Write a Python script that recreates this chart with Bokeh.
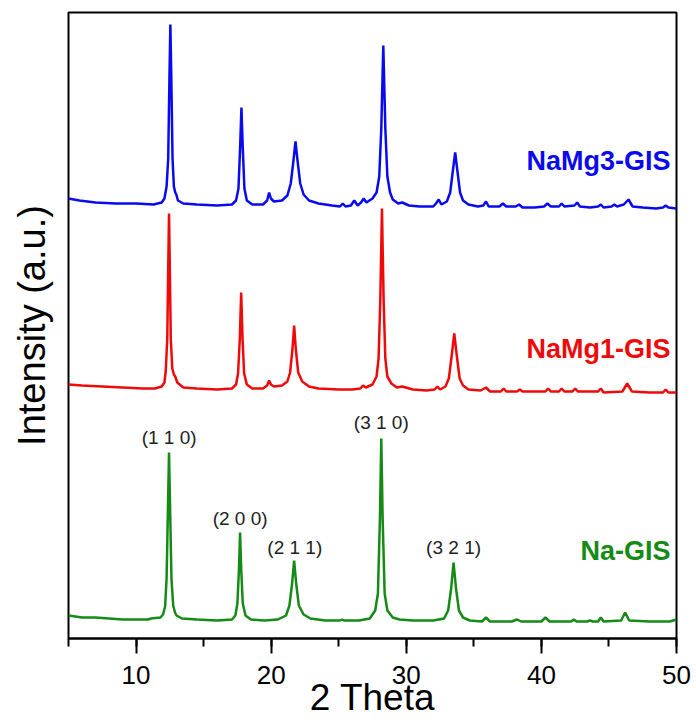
from bokeh.plotting import figure
from bokeh.models import Range1d, SingleIntervalTicker, FixedTicker, ColumnDataSource
from bokeh.core.properties import value
from bokeh.embed import file_html
from bokeh.resources import INLINE

# ---------------- data ----------------
mg3_x = [5.0, 5.8, 7.0, 8.5, 10.0, 11.3, 11.9, 12.1, 12.26, 12.38, 12.47, 12.54, 12.61, 12.70, 12.80, 12.90, 12.98, 13.1, 13.5, 14.5, 16.0,
         17.1, 17.4, 17.58, 17.70, 17.80, 17.90, 18.02, 18.2, 18.6, 19.4, 19.7, 19.85, 19.98, 20.2, 20.8, 21.2, 21.45, 21.65, 21.80,
         21.95, 22.15, 22.4, 22.8, 23.5, 24.5, 25.1, 25.3, 25.5, 25.9, 26.15, 26.4, 26.65, 26.85, 27.05, 27.5, 27.8, 28.0, 28.15, 28.30,
         28.45, 28.6, 28.8, 29.0, 29.4, 29.7, 30.2, 31.0, 32.0, 32.2, 32.4, 32.6, 33.0, 33.25, 33.45, 33.62, 33.78, 33.98, 34.2, 34.6,
         35.3, 35.7, 35.9, 36.1, 36.9, 37.15, 37.4, 38.1, 38.35, 38.6, 39.5, 40.2, 40.45, 40.7, 41.3, 41.5, 41.7, 42.45, 42.65, 42.85,
         43.6, 44.2, 44.4, 44.6, 45.2, 45.4, 45.6, 46.1, 46.45, 46.75, 47.5, 48.5, 49.0, 49.2, 49.4, 50.0]
mg3_y = [440, 438, 436, 435, 435, 434, 436, 440, 452, 480, 560, 614, 560, 480, 452, 446, 444, 438, 435, 434, 433,
         434, 438, 450, 490, 531, 490, 450, 438, 434, 434, 438, 446, 440, 437, 438, 443, 455, 478, 497,
         478, 455, 444, 438, 435, 433, 432, 435, 432, 433, 438, 433, 436, 440, 436, 440, 446, 462, 510, 593,
         510, 462, 446, 439, 435, 436, 433, 432, 432, 435, 439, 434, 437, 446, 468, 486, 468, 446, 438, 434,
         432, 433, 437, 432, 432, 435, 432, 432, 434, 431, 431, 432, 435, 432, 432, 435, 432, 433, 436, 432,
         431, 432, 434, 431, 432, 434, 432, 434, 439, 432, 431, 430, 431, 433, 431, 430]

mg1_x = [5.0, 6.0, 7.5, 9.0, 10.5, 11.4, 11.9, 12.1, 12.2, 12.31, 12.38, 12.44, 12.50, 12.57, 12.68, 12.80, 12.90, 13.05, 13.5, 14.5,
         16.0, 17.1, 17.4, 17.55, 17.68, 17.78, 17.88, 18.0, 18.2, 18.6, 19.4, 19.7, 19.85, 19.98, 20.2, 20.8, 21.2, 21.4, 21.58,
         21.70, 21.82, 22.0, 22.3, 22.8, 23.5, 25.0, 26.0, 26.6, 26.8, 27.0, 27.5, 27.8, 27.95, 28.08, 28.20, 28.32, 28.45, 28.6,
         28.9, 29.3, 29.7, 30.5, 31.5, 32.1, 32.3, 32.5, 32.9, 33.15, 33.38, 33.55, 33.72, 33.95, 34.2, 34.6, 35.5, 35.9, 36.2,
         37.0, 37.2, 37.4, 38.2, 38.4, 38.6, 40.3, 40.5, 40.7, 41.3, 41.5, 41.7, 42.3, 42.5, 42.7, 44.2, 44.4, 44.6, 46.0, 46.35,
         46.7, 48.0, 49.0, 49.2, 49.4, 50.0]
mg1_y = [254, 253, 252, 251, 250, 250, 252, 256, 268, 300, 370, 425, 370, 300, 270, 264, 262, 256, 251, 250,
         249, 250, 254, 265, 300, 346, 300, 265, 254, 250, 250, 253, 258, 254, 252, 253, 257, 266, 290,
         313, 290, 266, 257, 252, 250, 249, 249, 250, 253, 251, 254, 262, 280, 340, 430, 340, 280, 262,
         255, 251, 252, 249, 248, 249, 252, 249, 252, 260, 285, 305, 285, 260, 253, 249, 248, 251, 247,
         247, 250, 247, 247, 249, 247, 247, 250, 247, 247, 250, 247, 247, 250, 247, 247, 250, 246, 247, 255,
         247, 246, 246, 249, 246, 246]

na_x = [5.0, 6.0, 7.0, 8.0, 9.0, 10.0, 10.9, 11.1, 11.8, 12.0, 12.15, 12.26, 12.36, 12.44, 12.52, 12.62, 12.75, 12.88, 13.0, 13.4,
        14.5, 16.0, 17.1, 17.35, 17.5, 17.62, 17.70, 17.78, 17.9, 18.1, 18.5, 19.5, 20.5, 21.1, 21.35, 21.55, 21.70, 21.85, 22.05,
        22.4, 22.9, 24.0, 25.1, 25.25, 25.4, 26.5, 27.3, 27.7, 27.9, 28.05, 28.15, 28.25, 28.4, 28.6, 29.0, 29.5, 30.5, 32.0, 32.8,
        33.1, 33.32, 33.50, 33.68, 33.9, 34.2, 34.7, 35.6, 35.9, 36.2, 37.8, 38.2, 38.5, 40.0, 40.3, 40.6, 42.2, 42.4, 42.6, 43.4,
        43.6, 43.8, 44.2, 44.4, 44.6, 45.9, 46.2, 46.5, 48.0, 49.5, 50.0]
na_y = [23, 21, 21, 20, 19, 19, 19, 20, 21, 24, 32, 60, 130, 186, 130, 60, 33, 26, 23, 20,
        19, 18, 19, 23, 35, 70, 106, 70, 35, 23, 19, 18, 19, 23, 33, 55, 78, 55, 33,
        24, 20, 18, 18, 19, 18, 18, 20, 28, 45, 120, 200, 120, 45, 28, 21, 19, 18, 18, 20,
        28, 50, 76, 50, 28, 21, 18, 17, 21, 17, 17, 19, 17, 17, 21, 17, 17, 19, 17, 17,
        18, 17, 17, 21, 17, 18, 26, 18, 17, 17, 19]

sample_names = ["NaMg3-GIS", "NaMg1-GIS", "Na-GIS"]
sample_colors = ["#0a0aee", "#ee0a0a", "#158a15"]
sample_label_y = [478, 290, 88]

hkl_labels = ["(1 1 0)", "(2 0 0)", "(2 1 1)", "(3 1 0)", "(3 2 1)"]
hkl_x = [12.45, 17.7, 21.75, 28.15, 33.5]
hkl_y = [201, 120, 91, 216, 91]

x_ticks_interval = 10
x_title = "2 Theta"
y_title = "Intensity (a.u.)"

FONT = "Liberation Sans"

p = figure(width=696, height=728, output_backend="svg", toolbar_location=None,
           x_range=Range1d(5, 50), y_range=Range1d(0, 626),
           min_border_left=68, min_border_right=20, min_border_top=12, min_border_bottom=90)
p.background_fill_color = "white"
p.border_fill_color = "white"
p.outline_line_color = "black"
p.outline_line_width = 2
p.xgrid.visible = False
p.ygrid.visible = False

p.line(mg3_x, mg3_y, line_color=sample_colors[0], line_width=2.5)
p.line(mg1_x, mg1_y, line_color=sample_colors[1], line_width=2.5)
p.line(na_x, na_y, line_color=sample_colors[2], line_width=2.5)

lab_src = ColumnDataSource(dict(x=[49.55] * 3, y=sample_label_y, t=sample_names, c=sample_colors))
p.text(x="x", y="y", text="t", text_color="c", source=lab_src, text_align="right", text_baseline="middle",
       text_font=value(FONT), text_font_style="bold", text_font_size="27px")

hkl_src = ColumnDataSource(dict(x=hkl_x, y=hkl_y, t=hkl_labels))
p.text(x="x", y="y", text="t", source=hkl_src, text_align="center", text_baseline="middle",
       text_font=value(FONT), text_font_size="19px", text_color="#222222")

xa = p.xaxis[0]
xa.ticker = SingleIntervalTicker(interval=x_ticks_interval, num_minor_ticks=2)
xa.axis_line_color = "black"
xa.axis_line_width = 2
xa.major_tick_line_color = "black"
xa.major_tick_line_width = 2
xa.major_tick_out = 15
xa.major_tick_in = 0
xa.minor_tick_line_color = "black"
xa.minor_tick_line_width = 2
xa.minor_tick_out = 8
xa.minor_tick_in = 0
xa.major_label_text_font = FONT
xa.major_label_text_font_size = "26px"
xa.major_label_text_color = "black"
xa.major_label_standoff = 12
xa.axis_label = x_title
xa.axis_label_text_font = FONT
xa.axis_label_text_font_size = "37px"
xa.axis_label_text_font_style = "normal"
xa.axis_label_text_color = "black"
xa.axis_label_standoff = -10

ya = p.yaxis[0]
ya.ticker = FixedTicker(ticks=[])
ya.axis_line_color = None
ya.major_tick_line_color = None
ya.minor_tick_line_color = None
ya.major_label_text_font_size = "0px"
ya.major_label_standoff = 0
ya.axis_label = y_title
ya.axis_label_text_font = FONT
ya.axis_label_text_font_size = "38px"
ya.axis_label_text_font_style = "normal"
ya.axis_label_text_color = "black"
ya.axis_label_standoff = 16

open("out.html", "w").write(file_html(p, INLINE))
